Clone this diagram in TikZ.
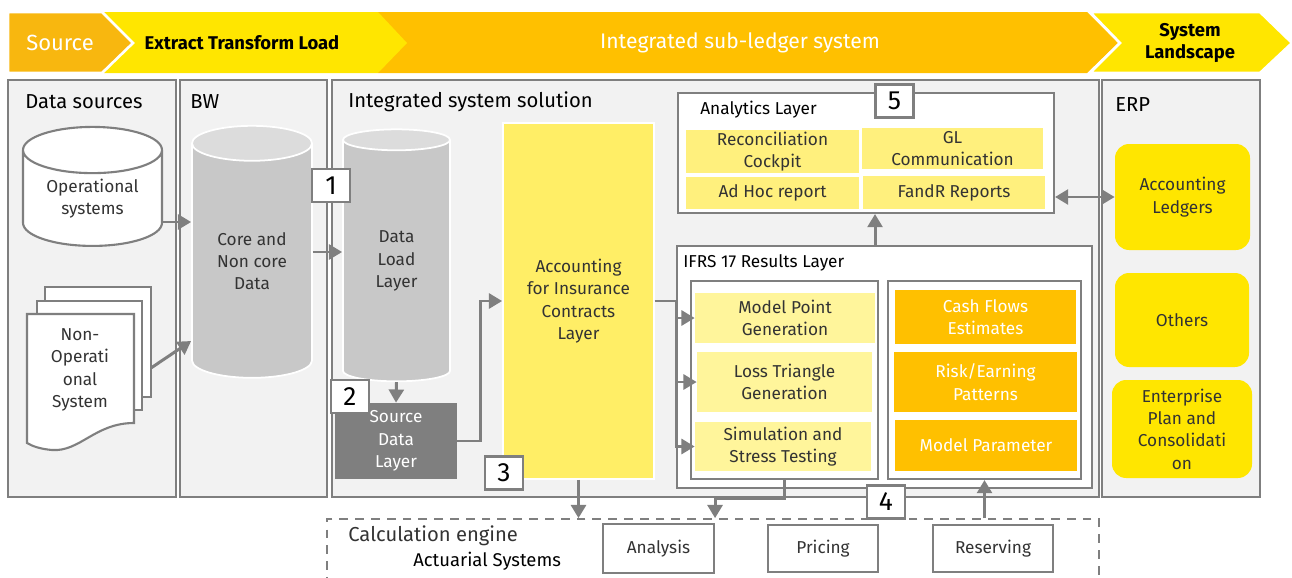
\documentclass[tikz,border=0pt]{standalone}
\usepackage{fontspec}
\setmainfont{Fira Sans}
\usetikzlibrary{shapes.geometric,arrows.meta}

\begin{document}
\begin{tikzpicture}
		[x=0.02cm,y=-0.02cm,line join=miter,
		%Styles
		sz/.style 2 args={minimum width=#1*0.02cm,minimum height=#2*0.02cm},
		panel/.style={draw=linegray,line width=1.5pt,fill=panelgray},
		panel title/.style={anchor=west,inner sep=0pt,font=\fontsize{11.5}{14}\selectfont},
		body text/.style={align=center,inner sep=0pt,text=textgray,font=\fontsize{9.8}{12.7}\selectfont},
		chevron/.style={draw=white,line width=1.5pt},
		white box/.style={draw=linegray,line width=1.2pt,fill=white},
		item/.style={body text,fill=#1},
		erp box/.style={body text,fill=erpyellow,rounded corners=8pt},
		number box/.style={white box,sz={38}{33},inner sep=0pt,font=\fontsize{15}{15}\selectfont},
		cyl/.style={cylinder,shape border rotate=90,aspect=0.5,body text},
		gray cyl/.style={cyl,cylinder uses custom fill,cylinder body fill=cylgray,cylinder end fill=cyltop,draw=white,line width=1pt},
		flow/.style={draw=linegray,line width=1.7pt,-{Triangle[length=7.5pt,width=8.5pt]}},
		both flow/.style={flow,{Triangle[length=7.5pt,width=8.5pt]}-{Triangle[length=7.5pt,width=8.5pt]}}
		]
		
		%Colors
		\definecolor{linegray}{HTML}{7F7F7F}
		\definecolor{panelgray}{HTML}{F2F2F2}
		\definecolor{textgray}{HTML}{333333}
		\definecolor{cylgray}{HTML}{C8C8C8}
		\definecolor{cyltop}{HTML}{DCDCDC}
		\definecolor{sdlgray}{HTML}{7F7F7F}
		\definecolor{sourceorange}{HTML}{F8B70F}
		\definecolor{eyorange}{HTML}{FFC000}
		\definecolor{erpyellow}{HTML}{FFE600}
		\definecolor{accyellow}{HTML}{FFEE66}
		\definecolor{reportyellow}{HTML}{FFF07D}
		\definecolor{resultyellow}{HTML}{FFF59B}
		
		%The graphic
		\useasboundingbox (0,0) rectangle (1292,578);
		
		%Banner
		\fill[eyorange] (378,12) -- (1087,12) -- (1118,43) -- (1087,73) -- (378,73) -- cycle;
		\fill[erpyellow] (104,12) -- (378,12) -- (407,43) -- (378,73) -- (104,73) -- (133,43) -- cycle;
		\path[chevron,fill=sourceorange] (8,12) -- (102,12) -- (133,43) -- (102,73) -- (8,73) -- cycle;
		\path[chevron,fill=erpyellow] (1090,12) -- (1260,12) -- (1292,43) -- (1260,73) -- (1090,73) -- (1120,43) -- cycle;
		\node[text=white,font=\fontsize{12.5}{14}\selectfont] (source) at (60,43) {Source};
		\node[font=\bfseries\fontsize{10.5}{12}\selectfont] (etl) at (242,43) {Extract Transform Load};
		\node[text=white,font=\fontsize{12}{14}\selectfont] (subledger) at (740,43) {Integrated sub-ledger system};
		\node[align=center,font=\bfseries\fontsize{10.5}{12.5}\selectfont] (landscape) at (1190,43) {System\\Landscape};
		
		%Panels
		\draw[panel] (8,80) rectangle (176,497);
		\draw[panel] (180,80) rectangle (327,497);
		\draw[panel] (332,80) rectangle (1099,497);
		\draw[panel] (1102,80) rectangle (1260,497);
		\node[panel title] (sources title) at (25,102) {Data sources};
		\node[panel title] (bw title) at (190,102) {BW};
		\node[panel title] (iss title) at (348,102) {Integrated system solution};
		\node[panel title] (erp title) at (1115,105) {ERP};
		
		%Data sources
		\node[cyl,draw=linegray,fill=white,line width=1.2pt,sz={139}{119}] (opsys) at (92.5,198.5) {Operational\\systems};
		\filldraw[white box] (45,287) rectangle (151,397);
		\filldraw[white box] (37,301) rectangle (142,410);
		\filldraw[white box] (27,314) -- (134,314) -- (134,423) .. controls (95,423) and (80,452) .. (52,450) .. controls (40,449) and (32,446) .. (27,443) -- cycle;
		\node[body text] (nonop) at (80,370) {Non-\\Operati\\onal\\System};
		\coordinate (nonop out) at (151,368);
		
		%BW and data load
		\node[gray cyl,sz={120}{252}] (bw) at (252,261) {Core and\\Non core\\Data};
		\node[gray cyl,sz={107}{252}] (dll) at (396.5,261) {Data\\Load\\Layer};
		\node[body text,fill=sdlgray,text=white,sz={122}{76}] (sdl) at (396,441) {Source\\Data\\Layer};
		\node[item=accyellow,draw=white,line width=1pt,sz={151}{356}] (acc) at (578.5,301) {Accounting\\for Insurance\\Contracts\\Layer};
		
		%Analytics layer
		\node[white box,sz={376}{120}] (analytics) at (866,153) {};
		\node[body text,text=black,anchor=west] (analytics title) at (700,110) {Analytics Layer};
		\node[item=reportyellow,sz={173}{43}] (recon) at (772.5,151.5) {Reconciliation\\Cockpit};
		\node[item=reportyellow,sz={181}{41}] (glcomm) at (952.5,148.5) {GL\\Communication};
		\node[item=reportyellow,sz={173}{32}] (adhoc) at (772.5,193) {Ad Hoc report};
		\node[item=reportyellow,sz={182}{33}] (fandr) at (954,192.5) {FandR Reports};
		
		%IFRS 17 results layer
		\node[white box,sz={415}{242}] (ifrs) at (884.5,367) {};
		\node[body text,text=black,anchor=west] (ifrs title) at (683,263) {IFRS 17 Results Layer};
		\node[white box,sz={187}{198}] (ifrs left) at (784.5,380) {};
		\node[white box,sz={193}{198}] (ifrs right) at (984.5,380) {};
		\node[item=resultyellow,sz={180}{50}] (mpg) at (785,318) {Model Point\\Generation};
		\node[item=resultyellow,sz={175}{60}] (ltg) at (784.5,382) {Loss Triangle\\Generation};
		\node[item=resultyellow,sz={176}{49}] (sst) at (783,446.5) {Simulation and\\Stress Testing};
		\node[item=eyorange,text=white,sz={181}{54}] (cfe) at (985.5,317) {Cash Flows\\Estimates};
		\node[item=eyorange,text=white,sz={183}{60}] (rep) at (985.5,382) {Risk/Earning\\Patterns};
		\node[item=eyorange,text=white,sz={182}{51}] (mpar) at (986,445.5) {Model Parameter};
		
		%ERP
		\node[erp box,sz={135}{106}] (ledgers) at (1182.5,197) {Accounting\\Ledgers};
		\node[erp box,sz={134}{94}] (others) at (1182,320) {Others};
		\node[erp box,sz={140}{98}] (epc) at (1182,429) {Enterprise\\Plan and\\Consolidati\\on};
		
		%Calculation engine
		\node[draw=linegray,line width=1pt,dash pattern=on 5pt off 4pt,sz={772}{90}] (calc) at (713,564) {};
		\node[anchor=west,inner sep=0pt,text=textgray,font=\fontsize{11.5}{14}\selectfont] (calc title) at (348,536) {Calculation engine};
		\node[anchor=west,inner sep=0pt,font=\fontsize{10.5}{12}\selectfont] (actuarial) at (413,561) {Actuarial Systems};
		\node[white box,body text,sz={111}{49}] (analysis) at (658.5,548.5) {Analysis};
		\node[white box,body text,sz={110}{47}] (pricing) at (823,548.5) {Pricing};
		\node[white box,body text,sz={120}{47}] (reserving) at (993,548.5) {Reserving};
		
		%Connectors
		\draw[flow] (opsys.east |- 0,222) -- (bw.west |- 0,222);
		\draw[flow] (nonop out) -- (bw.west |- 0,341);
		\draw[flow] (bw.east |- 0,252) -- (dll.west |- 0,252);
		\draw[flow] (dll.south) -- (sdl.north);
		\draw[flow] (sdl.east) -- ++(23,0) |- (acc.west);
		\draw[flow] (acc.east) -- ++(22,0) |- (mpg.west);
		\draw[flow] (acc.east) -- ++(22,0) |- (ltg.west);
		\draw[flow] (acc.east) -- ++(22,0) |- (sst.west);
		\draw[flow] (acc.south) -- (acc.south |- calc.north);
		\draw[flow] (ifrs left.south) -- ++(0,18) -| (analysis.north east |- calc.north);
		\draw[flow] (ifrs right.south |- calc.north) -- (ifrs right.south);
		\draw[flow] ([xshift=-5.4pt]ifrs.north) -- ([xshift=-5.4pt]ifrs.north |- analytics.south);
		\draw[both flow] (analytics.east |- ledgers.west) -- (ledgers.west);
		
		%Numbers
		\node[number box] (n1) at (331,185.5) {1};
		\node[number box] (n2) at (350,396.5) {2};
		\node[number box] (n3) at (504,473) {3};
		\node[number box] (n4) at (886,502) {4};
		\node[number box] (n5) at (894.5,101) {5};
	\end{tikzpicture}
\end{document}
